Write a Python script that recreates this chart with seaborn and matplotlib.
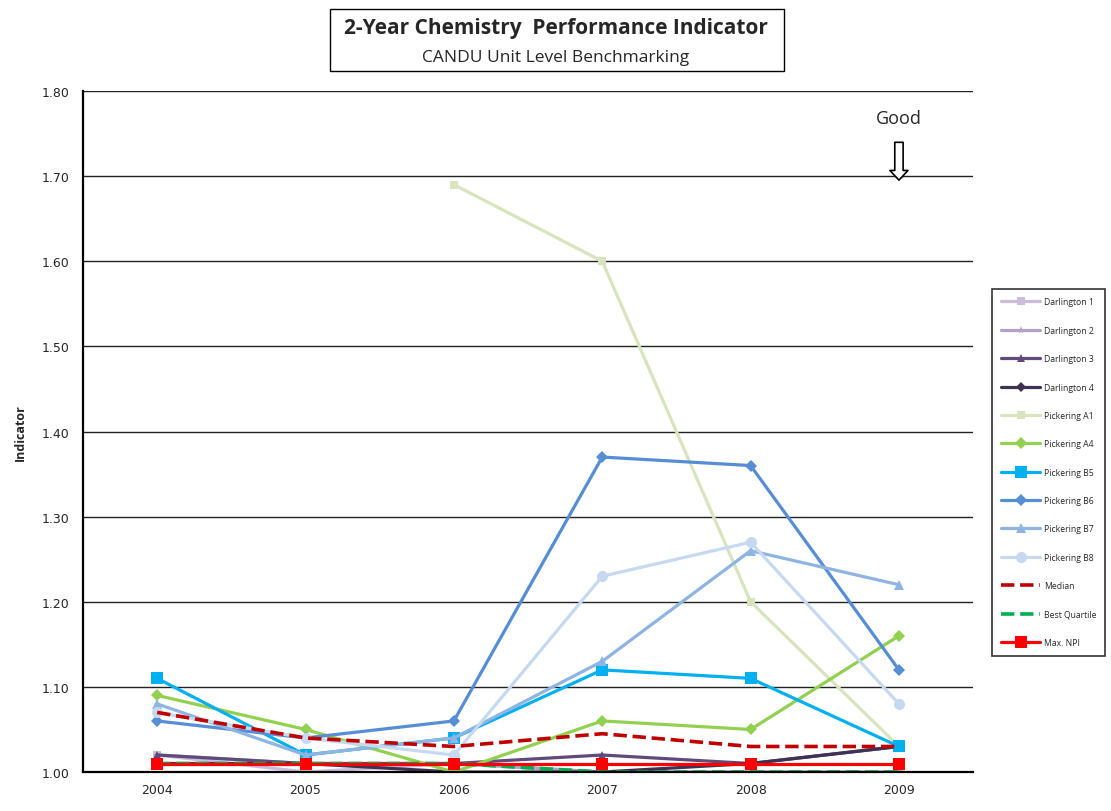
import numpy as np
import pandas as pd
import matplotlib
matplotlib.use("Agg")
import matplotlib.pyplot as plt
from matplotlib.patches import Rectangle
import seaborn as sns

years = ["2004", "2005", "2006", "2007", "2008", "2009"]

darlington_1 = [1.02, 1.00, 1.01, 1.00, 1.00, 1.00]
darlington_2 = [1.02, 1.01, 1.01, 1.00, 1.00, 1.00]
darlington_3 = [1.02, 1.01, 1.01, 1.02, 1.01, 1.03]
darlington_4 = [1.01, 1.01, 1.00, 1.00, 1.01, 1.03]
pickering_a1 = [np.nan, np.nan, 1.69, 1.60, 1.20, 1.03]
pickering_a4 = [1.09, 1.05, 1.00, 1.06, 1.05, 1.16]
pickering_b5 = [1.11, 1.02, 1.04, 1.12, 1.11, 1.03]
pickering_b6 = [1.06, 1.04, 1.06, 1.37, 1.36, 1.12]
pickering_b7 = [1.08, 1.02, 1.04, 1.13, 1.26, 1.22]
pickering_b8 = [1.07, 1.04, 1.02, 1.23, 1.27, 1.08]
median = [1.07, 1.04, 1.03, 1.045, 1.03, 1.03]
best_quartile = [1.01, 1.01, 1.01, 1.00, 1.00, 1.00]
max_npi = [1.01, 1.01, 1.01, 1.01, 1.01, 1.01]

series = [
    ("Darlington 1", darlington_1, "#CBBCDC", "-", "s", 6),
    ("Darlington 2", darlington_2, "#B3A2C7", "-", "*", 6),
    ("Darlington 3", darlington_3, "#604A7B", "-", "^", 6),
    ("Darlington 4", darlington_4, "#3F3151", "-", "D", 5),
    ("Pickering A1", pickering_a1, "#D7E4BD", "-", "s", 6),
    ("Pickering A4", pickering_a4, "#92D050", "-", "D", 6),
    ("Pickering B5", pickering_b5, "#00B0F0", "-", "s", 9),
    ("Pickering B6", pickering_b6, "#558ED5", "-", "D", 6),
    ("Pickering B7", pickering_b7, "#8EB4E3", "-", "^", 7),
    ("Pickering B8", pickering_b8, "#C6D9F1", "-", "o", 8),
    ("Median", median, "#C00000", "--", None, 0),
    ("Best Quartile", best_quartile, "#00B050", "--", None, 0),
    ("Max. NPI", max_npi, "#FF0000", "-", "s", 9),
]

sns.set_style("white")
plt.rcParams["font.family"] = ["Open Sans", "DejaVu Sans"]

fig = plt.figure(figsize=(11.11, 8.12), dpi=100)
ax = fig.add_axes([0.0747, 0.048, 0.8012, 0.8387])

x = np.arange(len(years))
for name, vals, color, ls, marker, ms in series:
    df = pd.DataFrame({"x": x, "y": vals}).dropna()
    sns.lineplot(x="x", y="y", data=df, ax=ax, color=color, linestyle=ls,
                 linewidth=2.6 if ls == "--" else 2.3, marker=marker,
                 markersize=ms, markeredgewidth=0, label=name)

ax.set_xlim(-0.5, 5.5)
ax.set_ylim(1.0, 1.8)
ax.set_yticks(np.arange(1.0, 1.81, 0.1))
ax.set_yticklabels([f"{v:.2f}" for v in np.arange(1.0, 1.81, 0.1)],
                   fontsize=9, family="DejaVu Sans")
ax.set_xticks(x)
ax.set_xticklabels(years, fontsize=9, family="DejaVu Sans")
ax.set_xticks(np.arange(0.5, 5.5, 1), minor=True)
ax.tick_params(axis="x", which="major", length=0, pad=8)
ax.tick_params(axis="x", which="minor", length=4, width=1, direction="out")
ax.tick_params(axis="y", length=4, width=1, direction="out", pad=6)
ax.yaxis.grid(True, color="#222222", linewidth=1)
ax.set_axisbelow(True)
for s in ["top", "right"]:
    ax.spines[s].set_visible(False)
for s in ["left", "bottom"]:
    ax.spines[s].set_color("black")
    ax.spines[s].set_linewidth(1.6)
ax.set_xlabel("")
ax.set_ylabel("Indicator", fontsize=9, fontweight="bold", labelpad=10)

ax.text(5, 1.758, "Good", ha="center", va="bottom", fontsize=13)
ax.annotate("", xy=(5, 1.692), xytext=(5, 1.743),
            arrowprops=dict(arrowstyle="simple,head_width=1.3,head_length=0.7,tail_width=0.6",
                            fc="white", ec="black", lw=1.2))

handles, labels = ax.get_legend_handles_labels()
ax.get_legend().remove()
leg = fig.legend(handles, labels, loc="upper left", bbox_to_anchor=(0.893, 0.643),
                 fontsize=6.2, frameon=True, fancybox=False, edgecolor="black",
                 handlelength=4.6, labelspacing=2.25, borderpad=1.0,
                 handletextpad=0.4, borderaxespad=0)
leg.get_frame().set_linewidth(1.2)

fig.patches.append(Rectangle((0.297, 0.911), 0.409, 0.077, transform=fig.transFigure,
                             fill=False, edgecolor="black", linewidth=1))
fig.text(0.5, 0.965, "2-Year Chemistry  Performance Indicator", ha="center", va="center",
         fontsize=15, fontweight="bold")
fig.text(0.5, 0.929, "CANDU Unit Level Benchmarking", ha="center", va="center", fontsize=12.5)

fig.savefig("out.png", dpi=100)
